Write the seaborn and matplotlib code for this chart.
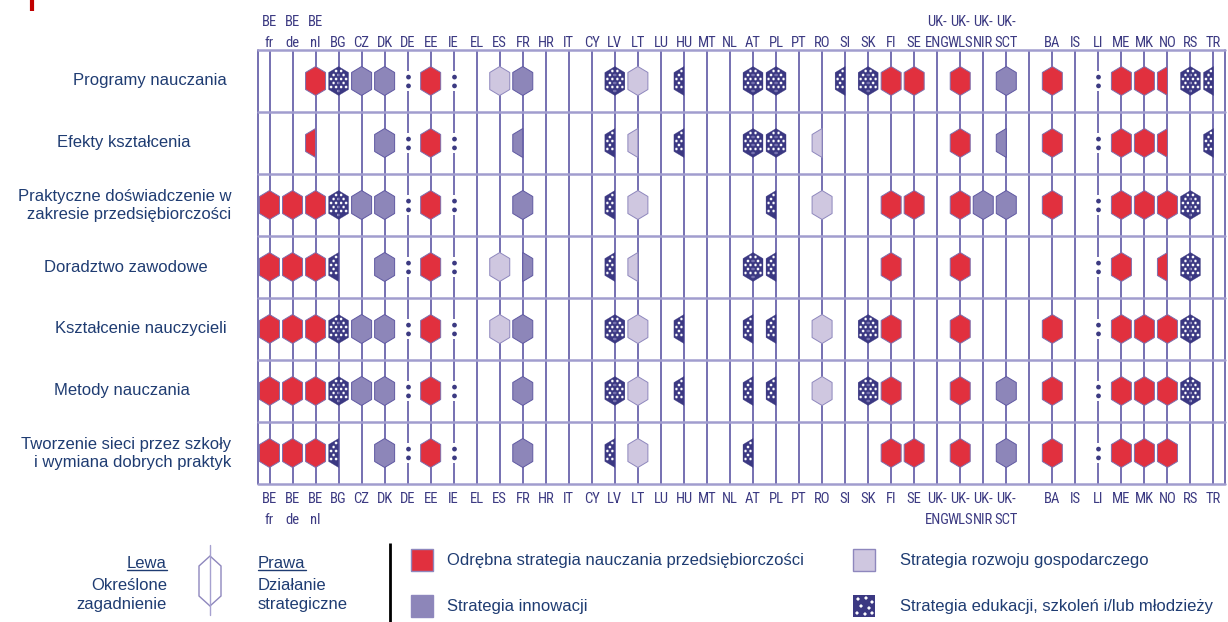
import numpy as np
import pandas as pd
import seaborn as sns
from matplotlib import pyplot as plt
from matplotlib import font_manager
from matplotlib.path import Path
from matplotlib.patches import Polygon, Rectangle, PathPatch

# columns (index 33 is the empty separator column)
countries = ['BE\nfr', 'BE\nde', 'BE\nnl', 'BG', 'CZ', 'DK', 'DE', 'EE', 'IE', 'EL',
             'ES', 'FR', 'HR', 'IT', 'CY', 'LV', 'LT', 'LU', 'HU', 'MT',
             'NL', 'AT', 'PL', 'PT', 'RO', 'SI', 'SK', 'FI', 'SE', 'UK-\nENG',
             'UK-\nWLS', 'UK-\nNIR', 'UK-\nSCT', '', 'BA', 'IS', 'LI', 'ME', 'MK', 'NO',
             'RS', 'TR']

topics = ['Programy nauczania',
          'Efekty kształcenia',
          'Praktyczne doświadczenie w\nzakresie przedsiębiorczości',
          'Doradztwo zawodowe',
          'Kształcenie nauczycieli',
          'Metody nauczania',
          'Tworzenie sieci przez szkoły\ni wymiana dobrych praktyk']

# code: strategy letter + side (B both, L left, R right); ':' no data; '.' nothing
# O odrebna, I innowacji, G gospodarczy, E edukacji/szkolen/mlodziezy
programy = ('.  .  OB EB IB IB :  OB :  .  '
            'GB IB .  .  .  EB GB .  EL .  '
            '.  EB EB .  .  EL EB OB OB .  '
            'OB .  IB .  OB .  :  OB OB OL '
            'EB EL').split()
efekty = ('.  .  OL .  .  IB :  OB :  .  '
          '.  IL .  .  .  EL GL .  EL .  '
          '.  EB EB .  GL .  .  .  .  .  '
          'OB .  IL .  OB .  :  OB OB OL '
          '.  EL').split()
praktyczne = ('OB OB OB EB IB IB :  OB :  .  '
              '.  IB .  .  .  EL GB .  .  .  '
              '.  .  EL .  GB .  .  OB OB .  '
              'OB IB IB .  OB .  :  OB OB OB '
              'EB .').split()
doradztwo = ('OB OB OB EL .  IB :  OB :  .  '
             'GB IR .  .  .  EL GL .  .  .  '
             '.  EB EL .  .  .  .  OB .  .  '
             'OB .  .  .  .  .  :  OB .  OL '
             'EB .').split()
ksztalcenie = ('OB OB OB EB IB IB :  OB :  .  '
               'GB IB .  .  .  EB GB .  EL .  '
               '.  EL EL .  GB .  EB OB .  .  '
               'OB .  .  .  OB .  :  OB OB OB '
               'EB .').split()
metody = ('OB OB OB EB IB IB :  OB :  .  '
          '.  IB .  .  .  EB GB .  EL .  '
          '.  EL EL .  GB .  EB OB .  .  '
          'OB .  IB .  OB .  :  OB OB OB '
          'EB .').split()
sieci = ('OB OB OB EL .  IB :  OB :  .  '
         '.  IB .  .  .  EL GB .  .  .  '
         '.  EL .  .  .  .  .  OB OB .  '
         'OB .  IB .  OB .  :  OB OB OB '
         '.  .').split()

rows = [programy, efekty, praktyczne, doradztwo, ksztalcenie, metody, sieci]

legend_labels = {'O': 'Odrębna strategia nauczania przedsiębiorczości',
                 'I': 'Strategia innowacji',
                 'G': 'Strategia rozwoju gospodarczego',
                 'E': 'Strategia edukacji, szkoleń i/lub młodzieży'}

# colours
fills = {'O': '#E1303E', 'I': '#8D86B9', 'G': '#CFC7E0', 'E': '#3B3882'}
edges = {'O': '#7D6FAE', 'I': '#5F58A2', 'G': '#8E87BD', 'E': '#3B3882'}
widths = {'O': 0.7, 'I': 0.7, 'G': 0.7, 'E': 0.2}
navy = '#3C3A82'
text_blue = '#1F3C72'
vline_c = '#5E58A4'
hline_c = '#A19DCE'

# build long table
recs, nodata = [], []
for i, r in enumerate(rows):
    assert len(r) == len(countries)
    for j, code in enumerate(r):
        if code == ':':
            nodata.append({'x': j, 'y': i})
        elif code != '.':
            recs.append({'x': j, 'y': i, 'cat': code[0],
                         'shape': code[1] + ('d' if code[0] == 'E' else '')})
df = pd.DataFrame(recs)
nd = pd.DataFrame(nodata)

# hexagon marker geometry (pixels)
W, H, S = 10.0, 14.5, 6.0
R_DOT = 1.45


def hex_outline(side):
    if side == 'B':
        return [(0, H), (-W, H - S), (-W, S - H), (0, -H), (W, S - H), (W, H - S)]
    if side == 'L':
        return [(0, H), (-W, H - S), (-W, S - H), (0, -H)]
    return [(0, -H), (W, S - H), (W, H - S), (0, H)]


def inside(x, y, side, m):
    if side == 'L' and x > -m:
        return False
    if side == 'R' and x < m:
        return False
    if abs(x) > W - m:
        return False
    return abs(y) <= H - S * abs(x) / W - m * 1.2


def build_path(parts):
    verts, codes = [], []
    for pts in parts:
        verts.extend(pts)
        verts.append(pts[0])
        codes.extend([Path.MOVETO] + [Path.LINETO] * (len(pts) - 1) + [Path.CLOSEPOLY])
    return Path(verts, codes)


def circle(cx, cy, r, n=12, cw=True):
    t = np.linspace(0, -2 * np.pi if cw else 2 * np.pi, n, endpoint=False)
    return list(zip(cx + r * np.cos(t), cy + r * np.sin(t)))


def hex_marker(side, dotted):
    parts = [hex_outline(side)]
    if dotted:
        for k, y in enumerate(np.arange(-10, 10.1, 4)):
            xs = (-5, 0, 5) if k % 2 == 0 else (-7.5, -2.5, 2.5, 7.5)
            for x in xs:
                if inside(x, y, side, R_DOT + 0.7):
                    parts.append(circle(x, y, R_DOT))
    return build_path(parts)


markers = {s + d: hex_marker(s, d == 'd') for s in 'BLR' for d in ('', 'd')}
colon_marker = build_path([circle(0, 4.4, 2.4, 16, cw=False), circle(0, -4.4, 2.4, 16, cw=False)])
gap_marker = build_path([[(-2.5, -10), (2.5, -10), (2.5, 10), (-2.5, 10)]])

sns.set_theme(style='white')
plt.rcParams['font.family'] = ['Liberation Sans', 'DejaVu Sans']

available = {f.name for f in font_manager.fontManager.ttflist}
narrow = 'DejaVu Sans'
for name in ['Liberation Sans Narrow', 'Roboto Condensed', 'Open Sans Condensed']:
    if name in available:
        narrow = name
        break
tick_size = 10.5 if narrow != 'DejaVu Sans' else 9

fig = plt.figure(figsize=(12.28, 6.22), dpi=100)
FW, FH = 1228, 622
L, T, Rr, B = 258, 50, 1225, 484
lax = fig.add_axes([0, 0, 1, 1], zorder=0)
lax.set_xlim(0, FW)
lax.set_ylim(FH, 0)
lax.axis('off')

ax = fig.add_axes([L / FW, 1 - B / FH, (Rr - L) / FW, (B - T) / FH], zorder=1)
ax.patch.set_alpha(0)

# grid
for j in range(len(countries)):
    ax.axvline(j, color=vline_c, lw=1.2, zorder=1)
for xb in (-0.5, len(countries) - 0.5):
    ax.axvline(xb, color=vline_c, lw=1.2, zorder=1, clip_on=False)
for i in range(len(rows) + 1):
    ax.axhline(i - 0.5, color=hline_c, lw=1.8, zorder=1.5, clip_on=False)

hex_s = (2 * H * 0.72) ** 2
for cat in ['O', 'I', 'G', 'E']:
    sub = df[df['cat'] == cat]
    sns.scatterplot(data=sub, x='x', y='y', style='shape', markers=markers,
                    color=fills[cat], edgecolor=edges[cat], linewidth=widths[cat],
                    s=hex_s, legend=False, ax=ax, zorder=3)

sns.scatterplot(data=nd, x='x', y='y', marker=gap_marker, color='white',
                linewidth=0, s=(20 * 0.72) ** 2, legend=False, ax=ax, zorder=2)
sns.scatterplot(data=nd, x='x', y='y', marker=colon_marker, color=navy,
                linewidth=0, s=(13.6 * 0.72) ** 2, legend=False, ax=ax, zorder=3)

ax.set_xlim(-0.5, len(countries) - 0.5)
ax.set_ylim(len(rows) - 0.5, -0.5)
ax.set(xlabel='', ylabel='')
ax.set_yticks([])
ax.set_xticks(range(len(countries)))
ax.set_xticklabels(countries)
ax.tick_params(axis='x', length=0, bottom=True, labelbottom=True, pad=6)
lab_style = dict(fontfamily=narrow, fontstretch='condensed', fontsize=tick_size,
                 color=navy, linespacing=1.6)
for lab in ax.get_xticklabels():
    lab.set(**lab_style)
# same labels along the top edge
for j, c in enumerate(countries):
    ax.annotate(c, xy=(j, 1), xycoords=ax.get_xaxis_transform(),
                xytext=(0, 0), textcoords='offset points',
                ha='center', va='bottom', annotation_clip=False, **lab_style)
for sp in ax.spines.values():
    sp.set_visible(False)

# row labels
row_h = (B - T) / len(rows)
label_pos = [(150, 'center'), (124, 'center'), (231, 'right'), (126, 'center'),
             (141, 'center'), (122, 'center'), (231, 'right')]
for i, (txt, (lx, ha)) in enumerate(zip(topics, label_pos)):
    lax.text(lx, T + row_h * (i + 0.5), txt, ha=ha, va='center', ma=ha,
             fontsize=12, color=text_blue, linespacing=1.25)

# red marker at top-left
lax.plot([32, 32], [0, 11], color='#C00000', lw=3, solid_capstyle='butt')

# legend: half-hexagon key
t_l = lax.text(167, 563, 'Lewa', ha='right', va='center', fontsize=12, color=text_blue)
lax.text(167, 595, 'Określone\nzagadnienie', ha='right', va='center', ma='right',
         fontsize=12, color=text_blue, linespacing=1.3)
t_p = lax.text(258, 563, 'Prawa', ha='left', va='center', fontsize=12, color=text_blue)
lax.text(258, 595, 'Działanie\nstrategiczne', ha='left', va='center', ma='left',
         fontsize=12, color=text_blue, linespacing=1.3)
cx, cy, hw, hh, sh = 210, 581, 11, 25, 10
lax.plot([cx, cx], [545, 615], color='#A6A1D0', lw=1)
lax.add_patch(Polygon([(cx, cy - hh), (cx + hw, cy - hh + sh), (cx + hw, cy + hh - sh),
                       (cx, cy + hh), (cx - hw, cy + hh - sh), (cx - hw, cy - hh + sh)],
                      closed=True, fill=False, edgecolor='#8E87BD', lw=1))
lax.plot([390, 390], [543, 622], color='black', lw=2, solid_capstyle='butt')

fig.canvas.draw()
inv = lax.transData.inverted()
for t in (t_l, t_p):
    bb = t.get_window_extent()
    (x0, y0), (x1, _) = inv.transform([(bb.x0, bb.y0), (bb.x1, bb.y1)])
    lax.plot([x0, x1], [y0 - 1, y0 - 1], color=text_blue, lw=1)

# legend: strategy swatches
swatches = [('O', 411, 549), ('I', 411, 595), ('G', 853, 549), ('E', 853, 595)]
for cat, sx, sy in swatches:
    if cat == 'E':
        sq = [(sx, sy), (sx + 22, sy), (sx + 22, sy + 22), (sx, sy + 22)]
        holes = [(5, 4), (13, 3), (19, 7), (8, 11), (16, 13), (4, 18), (12, 19), (19, 18)]
        parts = [sq] + [[(sx + hx, sy + hy - 2), (sx + hx - 2, sy + hy),
                         (sx + hx, sy + hy + 2), (sx + hx + 2, sy + hy)]
                        for hx, hy in holes]
        lax.add_patch(PathPatch(build_path(parts), facecolor=fills[cat], edgecolor='none'))
    else:
        lax.add_patch(Rectangle((sx, sy), 22, 22, facecolor=fills[cat],
                                edgecolor='#8E87BD', lw=1))
    lax.text(sx + 36 if cat in 'OI' else sx + 47, sy + 12, legend_labels[cat],
             ha='left', va='center', fontsize=12, color=text_blue)

fig.savefig('out.png', dpi=100)
